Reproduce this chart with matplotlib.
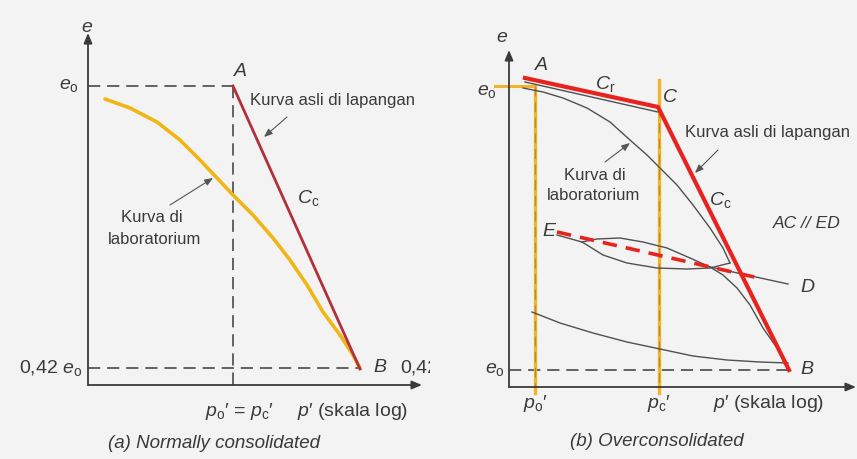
import matplotlib
matplotlib.use("Agg")
import matplotlib.pyplot as plt

plt.rcParams['font.family'] = ['Liberation Sans', 'DejaVu Sans']
plt.rcParams['mathtext.fontset'] = 'custom'
plt.rcParams['mathtext.rm'] = 'Liberation Sans'
plt.rcParams['mathtext.it'] = 'Liberation Sans:italic'

# ---------------- (a) normally consolidated ----------------
# schematic units: x = position along log p', y = void ratio e
a_e0 = 299
a_e042 = 17
a_point_A = (145, 299)
a_point_B = (272, 16)
a_lab_x = [17, 42, 69, 92, 112, 129, 145, 165, 185, 202, 219, 235, 252, 265, 272]
a_lab_y = [286, 277, 263, 245, 225, 207, 190, 170, 147, 125, 100, 73, 50, 30, 17]

# ---------------- (b) overconsolidated ----------------
b_e0 = 301
b_e0_low = 17
b_po = 26
b_pc = 150
b_A = (16, 309)
b_C = (149, 280)
b_B = (280, 17)
b_under_x = [16, 149]
b_under_y = [305, 275]
b_lab_x = [14, 34, 54, 78, 101, 121, 138, 151, 168, 184, 201, 214, 221]
b_lab_y = [299, 295, 289, 279, 265, 247, 232, 219, 202, 182, 159, 139, 124]
b_unload_x = [221, 201, 178, 148, 118, 94, 78, 73, 48]
b_unload_y = [124, 119, 118, 119, 124, 132, 142, 145, 152]
b_reload_x = [73, 88, 111, 134, 158, 181, 201, 214, 228, 241, 254, 268, 278, 280]
b_reload_y = [145, 148, 149, 145, 139, 129, 120, 112, 99, 82, 59, 39, 22, 17]
b_ed_x = [201, 279]
b_ed_y = [120, 103]
b_red_dash_x = [48, 254]
b_red_dash_y = [155, 108]
b_rebound_x = [23, 51, 84, 118, 151, 184, 218, 251, 279]
b_rebound_y = [75, 64, 54, 45, 38, 31, 27, 25, 24]

fig = plt.figure(figsize=(8.57, 4.59), dpi=100)
fig.patch.set_facecolor('#f3f3f3')

W, H = 857.0, 459.0
axa = fig.add_axes([0, 0, 430 / W, 1])
axb = fig.add_axes([430 / W, 0, 427 / W, 1])
axa.set_xlim(-88, 342)
axa.set_ylim(-74, 385)
axb.set_xlim(-79, 348)
axb.set_ylim(-72, 387)
axa.set_facecolor('#f1f1f1')
axb.set_facecolor('#f8f8f8')
for ax in (axa, axb):
    ax.axis('off')

dash = (0, (8, 4.5))
ink = '#3a3a3a'
arr = dict(arrowstyle='-|>,head_length=0.6,head_width=0.25', color=ink, lw=1.3,
           shrinkA=0, shrinkB=0)
ptr = dict(arrowstyle='-|>,head_length=0.5,head_width=0.2', color='#555555', lw=0.8,
           shrinkA=0, shrinkB=0)
fs = 12
fl = 14

# ---- panel a ----
axa.annotate('', xy=(0, 352), xytext=(0, 0), arrowprops=arr)
axa.annotate('', xy=(334, 0), xytext=(0, 0), arrowprops=arr)
axa.plot([0, a_point_A[0]], [a_e0, a_e0], color=ink, lw=1.1, ls=dash)
axa.plot([a_point_A[0], a_point_A[0]], [a_e0, 0], color=ink, lw=1.1, ls=dash)
axa.plot([0, a_point_B[0]], [a_e042, a_e042], color=ink, lw=1.1, ls=dash)
axa.plot(a_lab_x, a_lab_y, color='#f0b616', lw=2.6, solid_capstyle='round',
         solid_joinstyle='round')
axa.plot([a_point_A[0], a_point_B[0]], [a_point_A[1], a_point_B[1]],
         color='#b3303a', lw=2.0)

axa.text(-1, 358, 'e', fontsize=fl, style='italic', ha='center', va='center', color=ink)
axa.text(-9, a_e0, r'$e_\mathrm{o}$', fontsize=fl, ha='right', va='center', color=ink)
axa.text(-6, a_e042, r'0,42 $e_\mathrm{o}$', fontsize=fl, ha='right', va='center', color=ink)
axa.text(152, 313, 'A', fontsize=fl, style='italic', ha='center', va='center', color=ink)
axa.text(162, 285, 'Kurva asli di lapangan', fontsize=fs, ha='left', va='center', color=ink)
axa.annotate('', xy=(176, 248), xytext=(199, 268), arrowprops=ptr)
axa.text(209, 187, r'$C_\mathrm{c}$', fontsize=fl, ha='left', va='center', color=ink)
axa.text(64, 168, 'Kurva di', fontsize=fs, ha='center', va='center', color=ink)
axa.text(67, 146, 'laboratorium', fontsize=fs, ha='center', va='center', color=ink)
axa.annotate('', xy=(125, 207), xytext=(82, 180), arrowprops=ptr)
axa.text(285, 17, 'B', fontsize=fl, style='italic', ha='left', va='center', color=ink)
axa.text(312, 17, '0,42', fontsize=fl, ha='left', va='center', color=ink, clip_on=True)
axa.text(151, -27, r"$p_\mathrm{o}$′ = $p_\mathrm{c}$′", fontsize=fl, ha='center',
         va='center', color=ink)
axa.text(209, -27, r"$p$′ (skala log)", fontsize=fl, ha='left', va='center', color=ink)
axa.text(126, -58, '(a) Normally consolidated', fontsize=13.5, style='italic',
         ha='center', va='center', color=ink)

# ---- panel b ----
axb.annotate('', xy=(0, 337), xytext=(0, 0), arrowprops=arr)
axb.annotate('', xy=(347, 0), xytext=(0, 0), arrowprops=arr)
axb.plot([0, b_B[0]], [b_e0_low, b_e0_low], color=ink, lw=1.1, ls=dash)
yel = '#f0b52a'
axb.plot([-14, b_po], [b_e0, b_e0], color=yel, lw=2.2)
axb.plot([b_po, b_po], [b_e0, -6], color=yel, lw=2.4)
axb.plot([b_pc, b_pc], [307, -6], color=yel, lw=2.4)
axb.plot([b_po, b_po], [b_e0, 0], color='#c08a20', lw=0.9, ls=dash)
axb.plot([b_pc, b_pc], [b_C[1], 0], color='#c08a20', lw=0.9, ls=dash)

gray = '#505050'
for xs, ys in [(b_under_x, b_under_y), (b_lab_x, b_lab_y), (b_unload_x, b_unload_y),
               (b_reload_x, b_reload_y), (b_ed_x, b_ed_y), (b_rebound_x, b_rebound_y)]:
    axb.plot(xs, ys, color=gray, lw=1.0, solid_joinstyle='round')

red = '#e8221c'
axb.plot([b_A[0], b_C[0], b_B[0]], [b_A[1], b_C[1], b_B[1]], color=red, lw=3.0,
         solid_joinstyle='miter')
axb.plot(b_red_dash_x, b_red_dash_y, color=red, lw=2.6, ls=(0, (4, 2.5)))

axb.text(-7, 350, 'e', fontsize=fl, style='italic', ha='center', va='center', color=ink)
axb.text(-12, 295, r'$e_\mathrm{o}$', fontsize=fl, ha='right', va='center', color=ink)
axb.text(-4, b_e0_low, r'$e_\mathrm{o}$', fontsize=fl, ha='right', va='center', color=ink)
axb.text(32, 321, 'A', fontsize=fl, style='italic', ha='center', va='center', color=ink)
axb.text(86, 303, r'$C_\mathrm{r}$', fontsize=fl, ha='left', va='center', color=ink)
axb.text(154, 290, 'C', fontsize=fl, style='italic', ha='left', va='center', color=ink)
axb.text(176, 255, 'Kurva asli di lapangan', fontsize=fs, ha='left', va='center', color=ink)
axb.annotate('', xy=(186, 214), xytext=(209, 237), arrowprops=ptr)
axb.text(200, 187, r'$C_\mathrm{c}$', fontsize=fl, ha='left', va='center', color=ink)
axb.text(264, 163, 'AC // ED', fontsize=12.5, style='italic', ha='left', va='center', color=ink)
axb.text(86, 212, 'Kurva di', fontsize=fs, ha='center', va='center', color=ink)
axb.text(85, 192, 'laboratorium', fontsize=fs, ha='center', va='center', color=ink)
axb.annotate('', xy=(121, 244), xytext=(96, 225), arrowprops=ptr)
axb.text(40, 155, 'E', fontsize=fl, style='italic', ha='center', va='center', color=ink)
axb.text(291, 100, 'D', fontsize=fl, style='italic', ha='left', va='center', color=ink)
axb.text(291, 17, 'B', fontsize=fl, style='italic', ha='left', va='center', color=ink)
axb.text(b_po, -16, r"$p_\mathrm{o}$′", fontsize=fl, ha='center', va='center', color=ink)
axb.text(b_pc, -16, r"$p_\mathrm{c}$′", fontsize=fl, ha='center', va='center', color=ink)
axb.text(204, -16, r"$p$′ (skala log)", fontsize=fl, ha='left', va='center', color=ink)
axb.text(148, -55, '(b) Overconsolidated', fontsize=13.5, style='italic',
         ha='center', va='center', color=ink)

fig.savefig('out.png', dpi=100, facecolor=fig.get_facecolor())
